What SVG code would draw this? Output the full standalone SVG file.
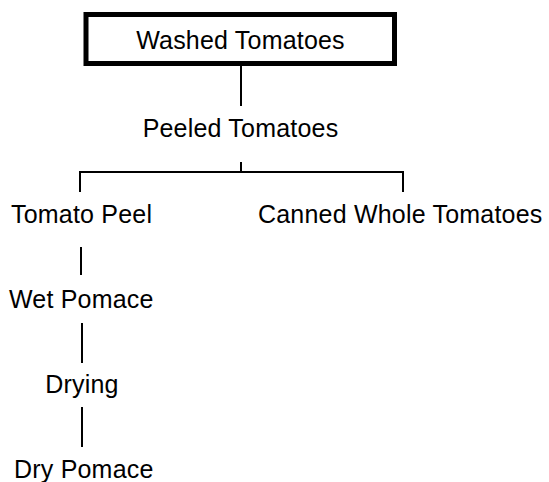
<svg xmlns="http://www.w3.org/2000/svg" width="549" height="482" viewBox="0 0 549 482">
  <style>
    .lbl { font-family: "Liberation Sans", Arial, Helvetica, sans-serif; font-size: 25px; letter-spacing: 0.2px; fill: #000; }
    .c { text-anchor: middle; }
    .ln { stroke: #000; stroke-width: 2; fill: none; }
    .box { stroke: #000; stroke-width: 5; fill: #fff; }
  </style>
  <rect width="549" height="482" fill="#fff"/>

  <!-- connectors -->
  <g id="connectors">
    <line class="ln" x1="241" y1="66" x2="241" y2="106"/>
    <line class="ln" x1="241" y1="162" x2="241" y2="172"/>
    <polyline class="ln" points="80,192 80,172 403,172 403,192"/>
    <line class="ln" x1="81" y1="247" x2="81" y2="275"/>
    <line class="ln" x1="82" y1="323" x2="82" y2="363"/>
    <line class="ln" x1="82" y1="407" x2="82" y2="447"/>
  </g>

  <g id="washed">
    <rect class="box" x="86" y="14.5" width="308.5" height="49"/>
    <text class="lbl c" x="240.5" y="49">Washed Tomatoes</text>
  </g>
  <g id="peeled">
    <text class="lbl c" x="240.5" y="137">Peeled Tomatoes</text>
  </g>
  <g id="peel">
    <text class="lbl" x="11" y="223">Tomato Peel</text>
  </g>
  <g id="canned">
    <text class="lbl" x="258" y="223">Canned Whole Tomatoes</text>
  </g>
  <g id="wet">
    <text class="lbl" x="9" y="308">Wet Pomace</text>
  </g>
  <g id="drying">
    <text class="lbl c" x="82" y="393">Drying</text>
  </g>
  <g id="dry">
    <text class="lbl" x="14" y="478">Dry Pomace</text>
  </g>
</svg>
